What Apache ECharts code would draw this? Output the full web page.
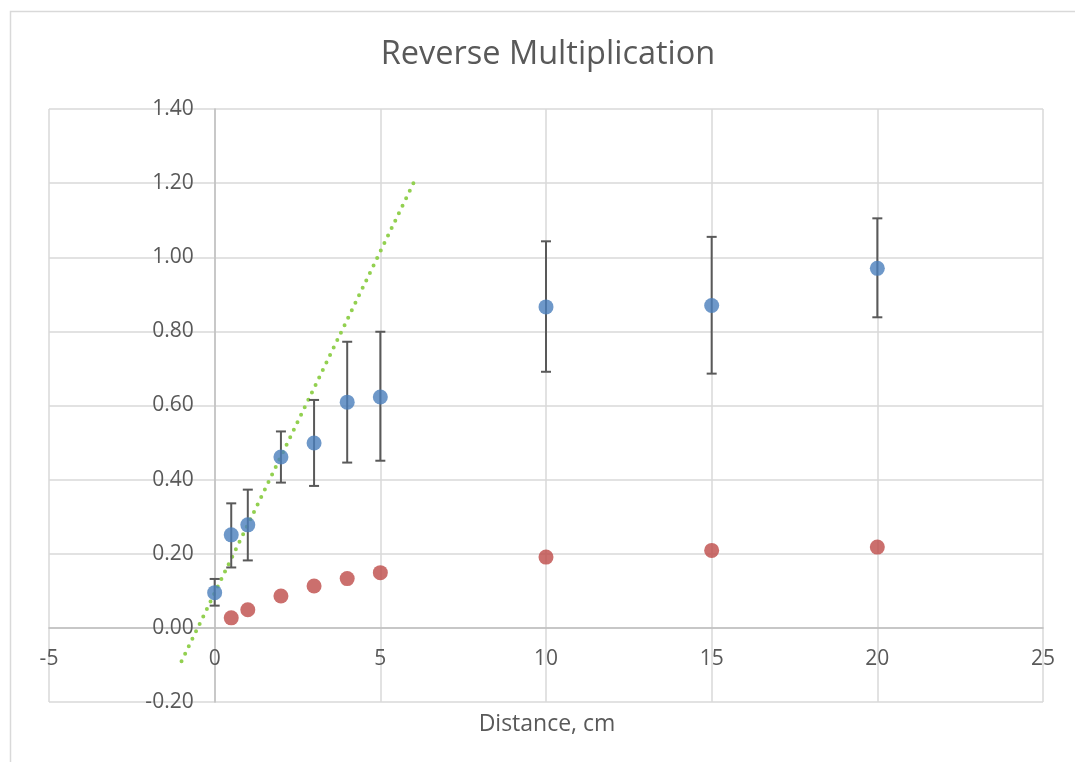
<!DOCTYPE html>
<html><head><meta charset="utf-8">
<script src="https://cdn.jsdelivr.net/npm/echarts@6/dist/echarts.min.js"></script>
<style>html,body{margin:0;padding:0;background:#fff}#c{width:1075px;height:762px}</style>
</head><body><div id="c"></div>
<script>
const distances = [0, 0.5, 1, 2, 3, 4, 5, 10, 15, 20];
const blueValues = [0.095, 0.251, 0.278, 0.461, 0.499, 0.609, 0.623, 0.866, 0.870, 0.970];
const blueErrLow = [0.060, 0.163, 0.182, 0.392, 0.383, 0.446, 0.451, 0.691, 0.686, 0.838];
const blueErrHigh = [0.132, 0.336, 0.373, 0.530, 0.615, 0.772, 0.799, 1.043, 1.055, 1.105];
const redDistances = [0.5, 1, 2, 3, 4, 5, 10, 15, 20];
const redValues = [0.027, 0.049, 0.086, 0.113, 0.133, 0.149, 0.191, 0.209, 0.218];
const trendX = [-1, 6];
const trendY = [-0.09, 1.2];
const titleText = 'Reverse Multiplication';
const xAxisTitle = 'Distance, cm';

const FONT = 'Open Sans';
const TXT = '#595959';
const X_MIN = -5, X_MAX = 25, Y_MIN = -0.2, Y_MAX = 1.4;
const G_LEFT = 49, G_RIGHT = 32, G_TOP = 109, G_BOTTOM = 60;
const W = 1075, H = 762;
const gw = W - G_LEFT - G_RIGHT, gh = H - G_TOP - G_BOTTOM;
// move axes so they cross at the origin (labels follow the axis lines)
const yOffset = -((0 - X_MIN) / (X_MAX - X_MIN)) * gw;
const xOffset = -((0 - Y_MIN) / (Y_MAX - Y_MIN)) * gh;

const chart = echarts.init(document.getElementById('c'), null, {renderer: 'canvas'});
const blueData = distances.map((d, i) => [d, blueValues[i]]);
const errData = distances.map((d, i) => [d, blueErrLow[i], blueErrHigh[i]]);
const redData = redDistances.map((d, i) => [d, redValues[i]]);
const trendData = trendX.map((d, i) => [d, trendY[i]]);

chart.setOption({
  animation: false,
  backgroundColor: '#fff',
  graphic: [
    {type: 'rect', shape: {x: 10.5, y: 11.5, width: 1100, height: 800}, style: {fill: 'none', stroke: '#d9d9d9', lineWidth: 1.5}, silent: true, z: -10},
    {type: 'text', x: 548, y: 55, style: {text: titleText, fontFamily: FONT, fontSize: 32.5, fill: TXT, align: 'center', verticalAlign: 'middle'}},
    {type: 'text', x: 547, y: 724, style: {text: xAxisTitle, fontFamily: FONT, fontSize: 23, fill: TXT, align: 'center', verticalAlign: 'middle'}}
  ],
  grid: {left: G_LEFT, right: G_RIGHT, top: G_TOP, bottom: G_BOTTOM, containLabel: false, outerBoundsMode: 'none'},
  xAxis: {
    type: 'value', min: X_MIN, max: X_MAX, interval: 5, position: 'bottom', offset: xOffset,
    axisLine: {onZero: false, lineStyle: {color: '#bfbfbf', width: 1.5}},
    axisTick: {show: false},
    axisLabel: {fontFamily: FONT, fontSize: 21, color: TXT, margin: 21},
    splitLine: {show: true, lineStyle: {color: '#d9d9d9', width: 1.5}}
  },
  yAxis: {
    type: 'value', min: Y_MIN, max: Y_MAX, interval: 0.2, position: 'left', offset: yOffset,
    axisLine: {show: true, onZero: false, lineStyle: {color: '#bfbfbf', width: 1.5}},
    axisTick: {show: false},
    axisLabel: {fontFamily: FONT, fontSize: 21, color: TXT, margin: 21, formatter: v => v.toFixed(2)},
    splitLine: {show: true, lineStyle: {color: '#d9d9d9', width: 1.5}}
  },
  series: [
    {
      type: 'line', data: trendData, showSymbol: false, symbol: 'none', z: 3,
      lineStyle: {color: '#92D050', width: 4, type: [0, 8.3], cap: 'round'}
    },
    {
      type: 'custom', z: 4, data: errData,
      encode: {x: 0, y: [1, 2]},
      renderItem: function (params, api) {
        const x = api.value(0);
        const lo = api.coord([x, api.value(1)]);
        const hi = api.coord([x, api.value(2)]);
        const hw = 5;
        const st = {stroke: '#595959', lineWidth: 2};
        return {type: 'group', children: [
          {type: 'line', shape: {x1: lo[0], y1: lo[1], x2: hi[0], y2: hi[1]}, style: st},
          {type: 'line', shape: {x1: lo[0] - hw, y1: lo[1], x2: lo[0] + hw, y2: lo[1]}, style: st},
          {type: 'line', shape: {x1: hi[0] - hw, y1: hi[1], x2: hi[0] + hw, y2: hi[1]}, style: st}
        ]};
      }
    },
    {
      type: 'scatter', data: blueData, symbolSize: 15, z: 5,
      itemStyle: {color: '#4A7EBB'}
    },
    {
      type: 'scatter', data: redData, symbolSize: 15, z: 5,
      itemStyle: {color: '#BE4B48'}
    }
  ]
});
</script>
</body></html>
